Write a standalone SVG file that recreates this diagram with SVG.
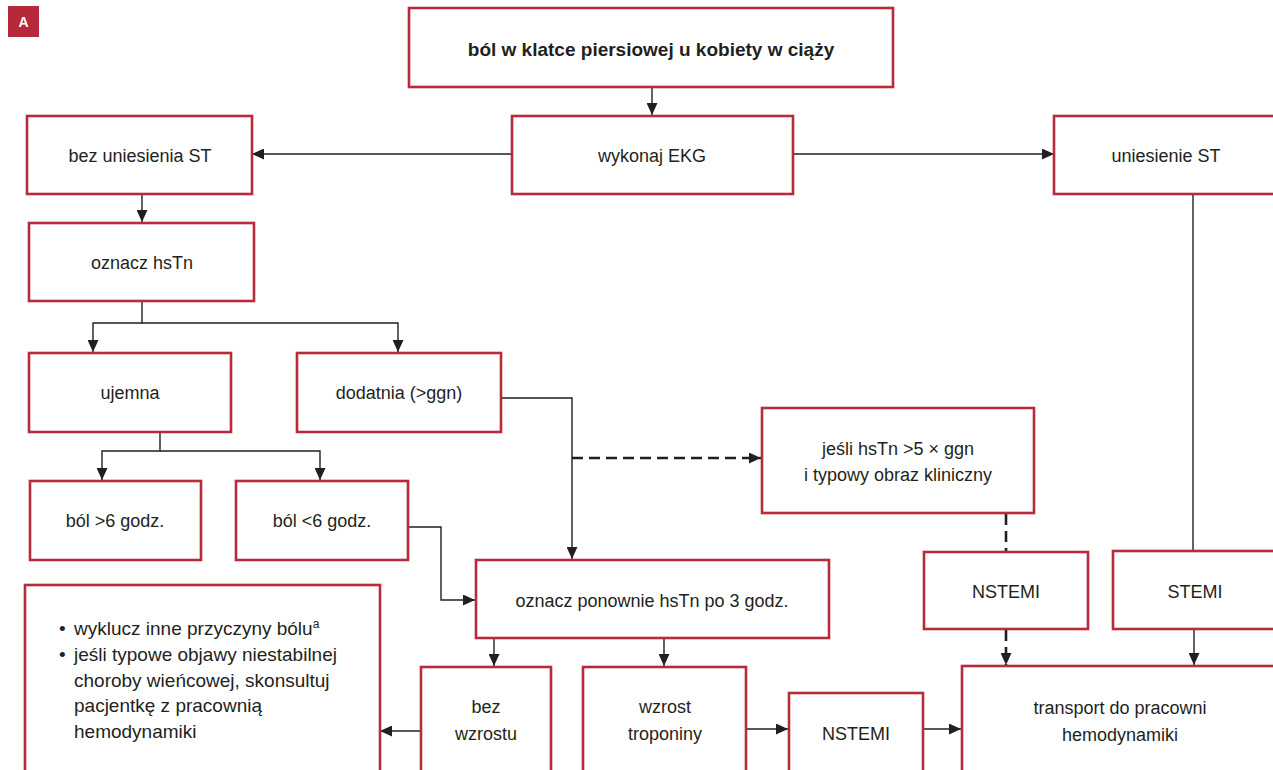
<svg xmlns="http://www.w3.org/2000/svg" width="1273" height="770" viewBox="0 0 1273 770">
<defs>
<style>
.box{fill:#fff;stroke:#b82b3b;stroke-width:2.6}
.t{font-family:"Liberation Sans",Arial,sans-serif;font-size:18px;fill:#231f20;text-anchor:middle}
.tl{font-family:"Liberation Sans",Arial,sans-serif;font-size:19px;fill:#231f20}
.b{font-weight:bold;font-size:19px}
.c{fill:none;stroke:#231f20;stroke-width:1.4}
.d{fill:none;stroke:#231f20;stroke-width:2.6;stroke-dasharray:11 6}
</style>
<marker id="ah" markerUnits="userSpaceOnUse" markerWidth="12" markerHeight="11" refX="12" refY="5.5" orient="auto">
<path d="M0,0 L12,5.5 L0,11 Z" fill="#231f20"/>
</marker>
</defs>
<rect width="1273" height="770" fill="#fff"/>
<g id="badge">
<rect x="8" y="6" width="31" height="31" fill="#b5293a"/>
<text x="23.5" y="27" font-family="Liberation Sans,Arial,sans-serif" font-size="14" font-weight="bold" fill="#fff" text-anchor="middle">A</text>
</g>
<g id="connectors">
<path class="c" d="M652 87 V115" marker-end="url(#ah)"/>
<path class="c" d="M512 154 H252" marker-end="url(#ah)"/>
<path class="c" d="M793 154 H1054" marker-end="url(#ah)"/>
<path class="c" d="M1193 194 V551"/>
<path class="c" d="M142 194 V222" marker-end="url(#ah)"/>
<path class="c" d="M142 301 V323 H93 V352" marker-end="url(#ah)"/>
<path class="c" d="M142 323 H398 V352" marker-end="url(#ah)"/>
<path class="c" d="M160 432 V451 H102 V480" marker-end="url(#ah)"/>
<path class="c" d="M160 451 H320 V480" marker-end="url(#ah)"/>
<path class="c" d="M408 527 H441 V600 H475" marker-end="url(#ah)"/>
<path class="c" d="M501 398 H572 V559" marker-end="url(#ah)"/>
<path class="d" d="M572 458 H761" marker-end="url(#ah)"/>
<path class="d" d="M1006 514 V551"/>
<path class="d" d="M1006 630 V665" marker-end="url(#ah)"/>
<path class="c" d="M1194 629 V665" marker-end="url(#ah)"/>
<path class="c" d="M494 638 V666" marker-end="url(#ah)"/>
<path class="c" d="M664 638 V666" marker-end="url(#ah)"/>
<path class="c" d="M746 729 H788" marker-end="url(#ah)"/>
<path class="c" d="M923 729 H961" marker-end="url(#ah)"/>
<path class="c" d="M421 731 H380" marker-end="url(#ah)"/>
</g>
<g id="n-title"><rect class="box" x="409" y="8" width="484" height="79"/><text class="t b" x="651" y="56">ból w klatce piersiowej u kobiety w ciąży</text></g>
<g id="n-ekg"><rect class="box" x="512" y="116" width="281" height="78"/><text class="t" x="652" y="162">wykonaj EKG</text></g>
<g id="n-bezst"><rect class="box" x="27" y="116" width="225" height="78"/><text class="t" x="140" y="162">bez uniesienia ST</text></g>
<g id="n-st"><rect class="box" x="1054" y="116" width="240" height="78"/><text class="t" x="1166" y="162">uniesienie ST</text></g>
<g id="n-hstn"><rect class="box" x="29" y="223" width="225" height="78"/><text class="t" x="142" y="269">oznacz hsTn</text></g>
<g id="n-ujemna"><rect class="box" x="29" y="353" width="202" height="79"/><text class="t" x="130" y="399">ujemna</text></g>
<g id="n-dodatnia"><rect class="box" x="297" y="353" width="204" height="79"/><text class="t" x="399" y="399">dodatnia (&gt;ggn)</text></g>
<g id="n-bol6plus"><rect class="box" x="30" y="481" width="171" height="79"/><text class="t" x="115" y="527">ból &gt;6 godz.</text></g>
<g id="n-bol6minus"><rect class="box" x="236" y="481" width="172" height="79"/><text class="t" x="322" y="527">ból &lt;6 godz.</text></g>
<g id="n-jesli"><rect class="box" x="762" y="408" width="272" height="105"/><text class="t" x="898" y="455">jeśli hsTn &gt;5 × ggn</text><text class="t" x="898" y="481">i typowy obraz kliniczny</text></g>
<g id="n-ponownie"><rect class="box" x="476" y="560" width="353" height="78"/><text class="t" x="652" y="607">oznacz ponownie hsTn po 3 godz.</text></g>
<g id="n-nstemi1"><rect class="box" x="924" y="552" width="164" height="77"/><text class="t" x="1006" y="598">NSTEMI</text></g>
<g id="n-stemi"><rect class="box" x="1113" y="551" width="180" height="78"/><text class="t" x="1195" y="598">STEMI</text></g>
<g id="n-wyklucz"><rect class="box" x="25" y="585" width="355" height="200"/>
<text class="tl" x="59" y="635">•</text><text class="tl" x="74" y="635">wyklucz inne przyczyny bólu<tspan font-size="12" dy="-7">a</tspan></text>
<text class="tl" x="59" y="661">•</text><text class="tl" x="74" y="661">jeśli typowe objawy niestabilnej</text>
<text class="tl" x="74" y="687">choroby wieńcowej, skonsultuj</text>
<text class="tl" x="74" y="712">pacjentkę z pracownią</text>
<text class="tl" x="74" y="738">hemodynamiki</text>
</g>
<g id="n-bezwzrostu"><rect class="box" x="421" y="667" width="130" height="120"/><text class="t" x="486" y="713">bez</text><text class="t" x="486" y="740">wzrostu</text></g>
<g id="n-wzrost"><rect class="box" x="583" y="667" width="163" height="120"/><text class="t" x="665" y="713">wzrost</text><text class="t" x="665" y="740">troponiny</text></g>
<g id="n-nstemi2"><rect class="box" x="789" y="693" width="134" height="94"/><text class="t" x="856" y="740">NSTEMI</text></g>
<g id="n-transport"><rect class="box" x="962" y="666" width="330" height="121"/><text class="t" x="1120" y="714">transport do pracowni</text><text class="t" x="1120" y="741">hemodynamiki</text></g>
</svg>
